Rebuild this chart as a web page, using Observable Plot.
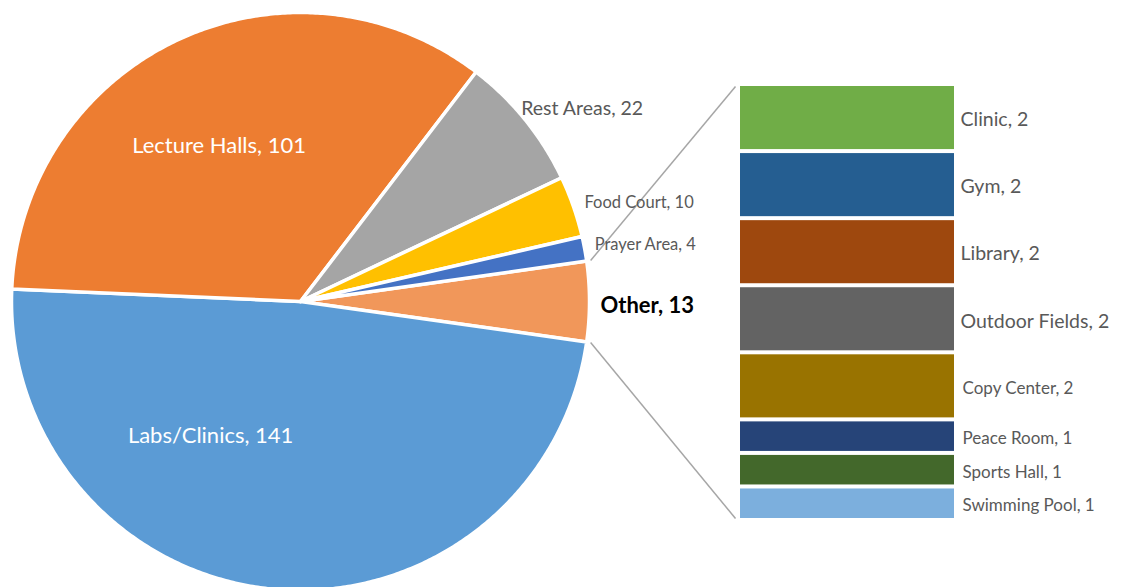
<!DOCTYPE html>
<html>
<head>
<meta charset="utf-8">
<script src="https://cdn.jsdelivr.net/npm/d3@7"></script>
<script src="https://cdn.jsdelivr.net/npm/@observablehq/plot@0.6"></script>
<style>
  html, body { margin: 0; padding: 0; background: #fff; }
  #chart { width: 1127px; height: 587px; overflow: hidden; }
</style>
</head>
<body>
<div id="chart"></div>
<script>
// ---------- DATA ----------
const sliceLabels = ["Other", "Labs/Clinics", "Lecture Halls", "Rest Areas", "Food Court", "Prayer Area"];
const sliceValues = [13, 141, 101, 22, 10, 4];
const sliceColors = ["#F1975A", "#5B9BD5", "#ED7D31", "#A5A5A5", "#FFC000", "#4472C4"];

const barLabels = ["Clinic", "Gym", "Library", "Outdoor Fields", "Copy Center", "Peace Room", "Sports Hall", "Swimming Pool"];
const barValues = [2, 2, 2, 2, 2, 1, 1, 1];
const barColors = ["#70AD47", "#255E91", "#9E480E", "#636363", "#997300", "#264478", "#43682B", "#7CAFDD"];

// ---------- LAYOUT ----------
const W = 1127, H = 587;
const cx = 300, cy = 301, R = 289;
const barX1 = 740, barX2 = 954, barTop = 84, barBottom = 520;
const bigBarLabelCount = 4; // first labels drawn larger
const font = "Lato, 'Open Sans', sans-serif";
// label placement: polar anchor (fraction of radius at slice mid-angle) + nudge
const pieLabelLayout = {
  "Lecture Halls": {k: 0.6, dx: -8, dy: 2, kind: "inside"},
  "Labs/Clinics":  {k: 0.6, dx: -74, dy: -38, kind: "inside"},
  "Rest Areas":    {k: 1, dx: -4, dy: -11, kind: "outer", size: 19.5},
  "Food Court":    {k: 1, dx: 11, dy: -4, kind: "outer", size: 16.5},
  "Prayer Area":   {k: 1, dx: 10, dy: -4, kind: "outer", size: 16.5},
  "Other":         {k: 1, dx: 11, dy: 4, kind: "other"}
};

// ---------- BUILD ----------
const slices = sliceLabels.map((label, i) => ({label, value: sliceValues[i]}));
const total = d3.sum(sliceValues);
const otherAngle = 2 * Math.PI * sliceValues[0] / total;
const start = Math.PI / 2 - otherAngle / 2;
const arcs = d3.pie().sort(null).value(d => d.value)
  .startAngle(start).endAngle(start + 2 * Math.PI)(slices);

const px = (a, r) => cx + r * Math.sin(a);
const py = (a, r) => cy - r * Math.cos(a);

const piePoints = [];
for (const a of arcs) {
  const label = a.data.label;
  piePoints.push({label, x: cx, y: cy});
  const n = Math.max(2, Math.ceil((a.endAngle - a.startAngle) / (Math.PI / 360)));
  for (let j = 0; j <= n; j++) {
    const t = a.startAngle + (a.endAngle - a.startAngle) * j / n;
    piePoints.push({label, x: px(t, R), y: py(t, R)});
  }
  piePoints.push({label, x: cx, y: cy});
}

const pieLabelData = arcs.map(a => {
  const L = pieLabelLayout[a.data.label];
  const m = (a.startAngle + a.endAngle) / 2;
  return {
    text: `${a.data.label}, ${a.data.value}`,
    kind: L.kind, size: L.size || 16,
    x: px(m, R * L.k) + L.dx,
    y: py(m, R * L.k) + L.dy
  };
});

const unit = (barBottom - barTop) / d3.sum(barValues);
let cum = 0;
const barData = barLabels.map((label, i) => {
  const y1 = barTop + cum * unit;
  cum += barValues[i];
  const y2 = barTop + cum * unit;
  return {label, value: barValues[i], y1, y2, ym: (y1 + y2) / 2, big: i < bigBarLabelCount};
});

const otherArc = arcs[0];
const links = [
  {x1: px(otherArc.startAngle, R + 4), y1: py(otherArc.startAngle, R + 4), x2: barX1 - 5, y2: barTop + 2},
  {x1: px(otherArc.endAngle, R + 4), y1: py(otherArc.endAngle, R + 4), x2: barX1 - 5, y2: barBottom - 2}
];

const chart = Plot.plot({
  width: W, height: H, margin: 0,
  x: {domain: [0, W], range: [0, W], axis: null},
  y: {domain: [0, H], range: [0, H], axis: null},
  color: {type: "ordinal", domain: [...sliceLabels, ...barLabels], range: [...sliceColors, ...barColors]},
  style: {fontFamily: font, background: "#fff"},
  marks: [
    Plot.line(piePoints, {x: "x", y: "y", z: "label", fill: "label", stroke: "white", strokeWidth: 3.5, strokeLinejoin: "round", curve: "linear"}),
    Plot.link(links, {x1: "x1", y1: "y1", x2: "x2", y2: "y2", stroke: "#A6A6A6", strokeWidth: 1.5}),
    Plot.rect(barData, {x1: barX1, x2: barX2, y1: "y1", y2: "y2", fill: "label", insetTop: 2, insetBottom: 2}),
    Plot.text(pieLabelData.filter(d => d.kind === "inside"), {x: "x", y: "y", text: "text", fill: "white", fontSize: 22, textAnchor: "middle"}),
    Plot.text(pieLabelData.filter(d => d.kind === "outer"), {x: "x", y: "y", text: "text", fill: "#595959", fontSize: "size", textAnchor: "start"}),
    Plot.text(pieLabelData.filter(d => d.kind === "other"), {x: "x", y: "y", text: "text", fill: "#000", fontSize: 22, fontWeight: "bold", textAnchor: "start"}),
    Plot.text(barData.filter(d => d.big), {x: barX2 + 6, y: "ym", dy: 2, text: d => `${d.label}, ${d.value}`, fill: "#595959", fontSize: 19.5, textAnchor: "start"}),
    Plot.text(barData.filter(d => !d.big), {x: barX2 + 8, y: "ym", dy: 2, text: d => `${d.label}, ${d.value}`, fill: "#595959", fontSize: 17, textAnchor: "start"})
  ]
});
document.getElementById("chart").appendChild(chart);
</script>
</body>
</html>
